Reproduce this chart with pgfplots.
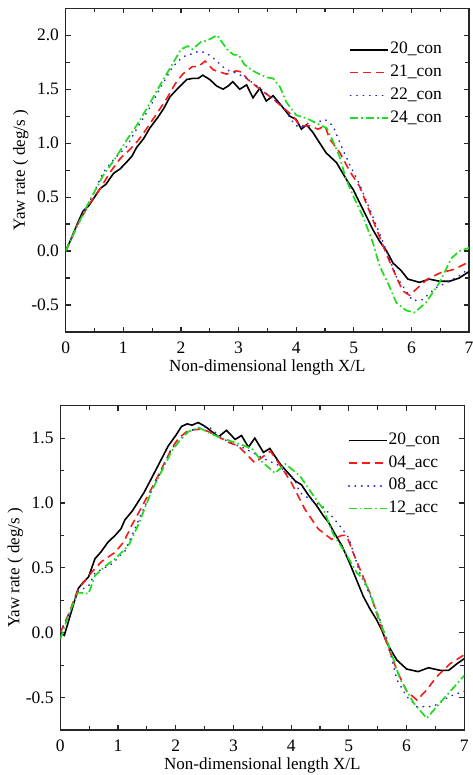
\documentclass[border=0pt]{standalone}
\usepackage{fontspec}
\setmainfont{Liberation Serif}
\usepackage{pgfplots}
\pgfplotsset{compat=1.18}
\definecolor{cred}{RGB}{250,25,25}
\definecolor{cblue}{RGB}{35,35,225}
\definecolor{cgreen}{RGB}{30,220,30}
\pgfplotsset{
  myaxis/.style={
    scale only axis,
    xmin=0, xmax=7,
    xtick={0,1,2,3,4,5,6,7},
    xticklabels={0,1,2,3,4,5,6,7},
    minor x tick num=1,
    minor y tick num=1,
    tick align=inside,
    major tick length=5pt,
    minor tick length=4pt,
    every tick/.style={line width=1.2pt, color=black!85},
    axis line style={line width=1.4pt, color=black!85},
    ticklabel style={font=\fontsize{17.5}{19}\selectfont},
    xticklabel style={inner sep=0pt, yshift=-10pt},
    yticklabel style={inner sep=0pt, xshift=-6.5pt},
    label style={font=\fontsize{17}{20}\selectfont},
    xlabel={Non-dimensional length X/L},
    ylabel={Yaw rate ( deg/s )},
    xlabel style={at={(axis description cs:0.5,0)}, anchor=north, inner sep=0pt, yshift=-28pt},
    ylabel style={at={(axis description cs:0,0.5)}, anchor=south, inner sep=0pt, yshift=37pt},
    legend cell align=left,
    legend image code/.code={\draw[#1] (0pt,0pt) -- (38pt,0pt);},
    legend style={draw=none, fill=none, inner sep=0pt, row sep=4.7pt,
      font=\fontsize{17.5}{20}\selectfont,
      nodes={inner sep=1pt, text height=12pt, text depth=4pt}},
  },
  s1/.style={black, solid, line width=1.6pt},
  s2/.style={cred, line width=1.6pt, dash pattern=on 8pt off 5pt},
  s3/.style={cblue, line width=1.7pt, line cap=round, dash pattern=on 0.4pt off 6pt},
  s4/.style={cgreen, line width=1.7pt, dash pattern=on 8pt off 3pt on 1.6pt off 3pt},
}
\begin{document}
\begin{tikzpicture}
\path[use as bounding box] (0,0) rectangle (472pt,775pt);
% ---------------- top panel ----------------
\begin{axis}[myaxis,
  at={(65.7pt,443pt)}, anchor=south west,
  width=403.3pt, height=323.7pt,
  ymin=-0.75, ymax=2.25,
  ytick={-0.5,0,0.5,1,1.5,2},
  yticklabels={-0.5,0.0,0.5,1.0,1.5,2.0},
  legend style={at={(axis description cs:1,1)}, anchor=north east, xshift=-26pt, yshift=-32.5pt},
]
\addplot[s1] coordinates {
(0,0) (0.1,0.12) (0.2,0.25) (0.3,0.37) (0.4,0.42) (0.5,0.5) (0.6,0.58) (0.7,0.62)
(0.83,0.72) (0.94,0.76) (1.05,0.82) (1.15,0.88) (1.23,0.96) (1.35,1.04) (1.46,1.14)
(1.6,1.24) (1.7,1.32) (1.81,1.43) (1.95,1.51) (2.1,1.59) (2.2,1.60) (2.3,1.60)
(2.38,1.63) (2.5,1.59) (2.62,1.53) (2.73,1.50) (2.82,1.53) (2.9,1.57) (3.02,1.50)
(3.14,1.54) (3.25,1.42) (3.37,1.51) (3.48,1.39) (3.6,1.44) (3.77,1.33) (3.89,1.25)
(4.0,1.22) (4.09,1.13) (4.18,1.17) (4.29,1.10) (4.41,1.00) (4.52,0.91) (4.6,0.87)
(4.7,0.82) (4.81,0.72) (4.9,0.64) (4.99,0.57) (5.1,0.45) (5.22,0.32) (5.33,0.20)
(5.45,0.09) (5.57,0.00) (5.68,-0.11) (5.82,-0.18) (5.94,-0.26) (6.14,-0.29)
(6.31,-0.26) (6.49,-0.28) (6.66,-0.28) (6.83,-0.25) (7,-0.19)
};
\addlegendentry{20\_con}
\addplot[s2] coordinates {
(0,0) (0.2,0.24) (0.4,0.43) (0.6,0.58) (0.77,0.73) (0.95,0.86) (1.11,0.94)
(1.25,1.02) (1.4,1.13) (1.55,1.25) (1.75,1.41) (1.9,1.55) (2.03,1.64) (2.2,1.71)
(2.3,1.71) (2.42,1.76) (2.56,1.68) (2.79,1.64) (2.96,1.67) (3.05,1.66) (3.16,1.59)
(3.37,1.50) (3.6,1.41) (3.77,1.33) (3.95,1.25) (4.06,1.16) (4.23,1.16) (4.38,1.13)
(4.5,1.16) (4.58,1.04) (4.76,0.91) (4.93,0.74) (5.1,0.60) (5.33,0.29) (5.56,-0.02)
(5.74,-0.24) (5.85,-0.37) (5.97,-0.41) (6.11,-0.34) (6.28,-0.26) (6.51,-0.20)
(6.74,-0.17) (7,-0.10)
};
\addlegendentry{21\_con}
\addplot[s3] coordinates {
(0,0) (0.2,0.25) (0.35,0.40) (0.5,0.55) (0.65,0.73) (0.85,0.86) (1.06,0.97)
(1.25,1.15) (1.46,1.33) (1.65,1.52) (1.86,1.71) (2.03,1.80) (2.15,1.82) (2.3,1.85)
(2.43,1.84) (2.56,1.79) (2.68,1.73) (2.79,1.68) (2.96,1.65) (3.14,1.60) (3.37,1.51)
(3.6,1.41) (3.77,1.34) (3.95,1.19) (4.06,1.14) (4.23,1.19) (4.4,1.20) (4.5,1.22)
(4.64,1.16) (4.81,0.94) (4.93,0.80) (5.1,0.62) (5.33,0.32) (5.56,0.01) (5.74,-0.24)
(5.91,-0.37) (6.02,-0.46) (6.19,-0.45) (6.43,-0.34) (6.66,-0.28) (6.86,-0.22) (7,-0.16)
};
\addlegendentry{22\_con}
\addplot[s4] coordinates {
(0,0) (0.2,0.23) (0.4,0.45) (0.65,0.70) (0.85,0.85) (1.06,1.03) (1.25,1.18)
(1.46,1.37) (1.65,1.55) (1.85,1.73) (2.0,1.87) (2.12,1.90) (2.2,1.87) (2.35,1.94)
(2.45,1.95) (2.63,2.00) (2.8,1.87) (2.91,1.82) (3.0,1.82) (3.1,1.73) (3.25,1.67)
(3.48,1.61) (3.6,1.60) (3.72,1.52) (3.83,1.38) (4.0,1.26) (4.18,1.23) (4.41,1.17)
(4.53,1.14) (4.62,1.04) (4.75,0.88) (4.87,0.66) (5.0,0.50) (5.16,0.32) (5.33,0.08)
(5.45,-0.14) (5.62,-0.33) (5.74,-0.48) (5.91,-0.55) (6.05,-0.57) (6.25,-0.48)
(6.49,-0.29) (6.69,-0.07) (6.83,0.00) (7,0.03)
};
\addlegendentry{24\_con}
\end{axis}
% ---------------- bottom panel ----------------
\begin{axis}[myaxis,
  at={(60.3pt,45pt)}, anchor=south west,
  width=404pt, height=324.3pt,
  ymin=-0.75, ymax=1.75,
  ytick={-0.5,0,0.5,1,1.5},
  yticklabels={-0.5,0.0,0.5,1.0,1.5},
  legend style={at={(axis description cs:1,1)}, anchor=north east, xshift=-23pt, yshift=-25.5pt},
]
\addplot[s1] coordinates {
(0,0) (0.07,-0.02) (0.15,0.1) (0.31,0.34) (0.4,0.39) (0.49,0.43) (0.6,0.57)
(0.7,0.62) (0.83,0.70) (0.95,0.75) (1.05,0.80) (1.12,0.87) (1.25,0.94) (1.35,1.01)
(1.45,1.08) (1.58,1.19) (1.72,1.31) (1.87,1.44) (2.0,1.52) (2.1,1.59) (2.2,1.61)
(2.28,1.60) (2.39,1.62) (2.51,1.59) (2.57,1.57) (2.74,1.51) (2.88,1.56) (3.03,1.49)
(3.14,1.52) (3.26,1.43) (3.37,1.50) (3.52,1.39) (3.63,1.42) (3.81,1.30) (3.95,1.23)
(4.07,1.17) (4.18,1.14) (4.3,1.06) (4.44,0.98) (4.56,0.90) (4.65,0.85) (4.76,0.76)
(4.88,0.67) (5.02,0.53) (5.14,0.40) (5.25,0.28) (5.37,0.18) (5.48,0.10) (5.57,0.02)
(5.66,-0.08) (5.75,-0.15) (5.83,-0.21) (6.0,-0.28) (6.2,-0.30) (6.38,-0.27)
(6.58,-0.29) (6.73,-0.29) (6.87,-0.24) (7,-0.20)
};
\addlegendentry{20\_con}
\addplot[s2] coordinates {
(0,0) (0.15,0.15) (0.31,0.34) (0.43,0.40) (0.55,0.47) (0.72,0.55) (0.95,0.62)
(1.1,0.70) (1.24,0.83) (1.4,0.96) (1.58,1.11) (1.75,1.26) (1.93,1.42) (2.05,1.50)
(2.22,1.56) (2.45,1.57) (2.57,1.55) (2.74,1.51) (2.9,1.47) (3.08,1.44) (3.26,1.36)
(3.37,1.31) (3.52,1.36) (3.64,1.40) (3.78,1.31) (4.0,1.16) (4.24,0.95) (4.47,0.80)
(4.7,0.72) (4.88,0.75) (4.96,0.75) (5.08,0.61) (5.37,0.30) (5.6,-0.01) (5.83,-0.29)
(6.0,-0.45) (6.18,-0.52) (6.35,-0.44) (6.52,-0.34) (6.75,-0.24) (7,-0.17)
};
\addlegendentry{04\_acc}
\addplot[s3] coordinates {
(0,0) (0.15,0.14) (0.31,0.32) (0.49,0.36) (0.6,0.46) (0.89,0.53) (1.12,0.63)
(1.3,0.81) (1.58,1.09) (1.93,1.42) (2.22,1.55) (2.4,1.58) (2.57,1.59) (2.75,1.52)
(2.91,1.47) (3.2,1.42) (3.49,1.35) (3.78,1.29) (4.07,1.17) (4.15,1.08) (4.36,1.02)
(4.55,0.97) (4.7,0.90) (4.85,0.82) (5.0,0.73) (5.19,0.46) (5.43,0.23) (5.66,-0.05)
(5.83,-0.36) (6.0,-0.49) (6.18,-0.57) (6.46,-0.57) (6.75,-0.49) (7,-0.45)
};
\addlegendentry{08\_acc}
\addplot[s4] coordinates {
(0,-0.05) (0.1,0.08) (0.2,0.20) (0.31,0.31) (0.49,0.30) (0.6,0.44) (0.8,0.52)
(0.95,0.57) (1.18,0.67) (1.35,0.83) (1.58,1.09) (1.93,1.40) (2.1,1.50) (2.22,1.55)
(2.4,1.58) (2.68,1.52) (3.0,1.47) (3.32,1.42) (3.49,1.32) (3.72,1.23) (3.9,1.30)
(4.15,1.21) (4.38,1.06) (4.56,0.95) (4.73,0.76) (4.96,0.60) (5.14,0.46) (5.26,0.41)
(5.37,0.30) (5.49,0.15) (5.66,-0.06) (5.89,-0.36) (6.12,-0.54) (6.35,-0.66)
(6.58,-0.54) (7,-0.33)
};
\addlegendentry{12\_acc}
\end{axis}
\end{tikzpicture}
\end{document}
